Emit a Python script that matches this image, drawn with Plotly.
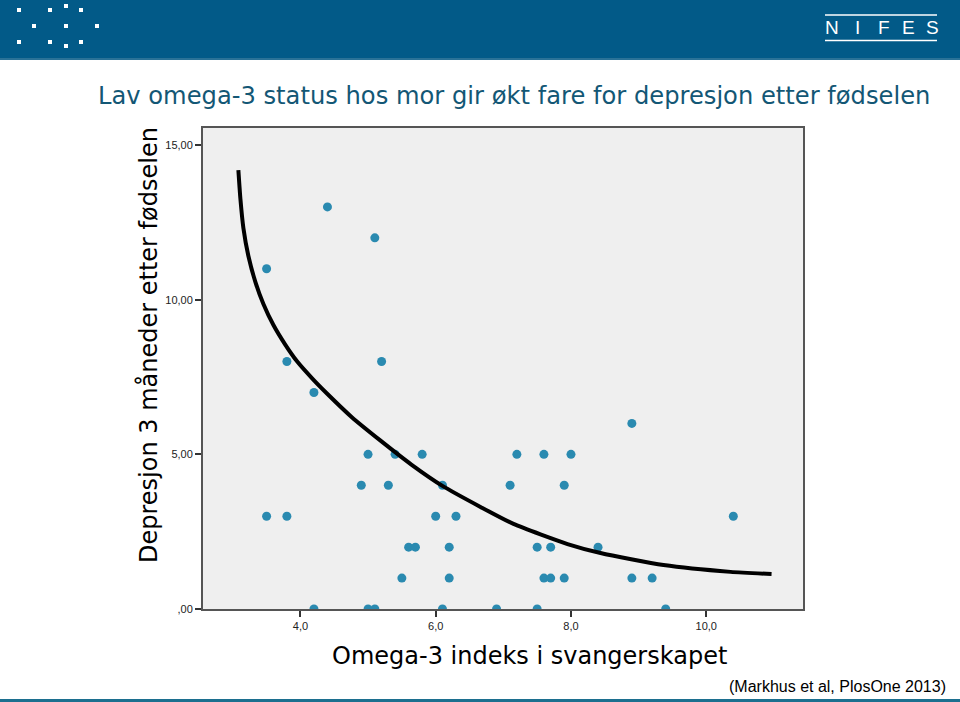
import plotly.graph_objects as go

# ---- data ----
omega3_index = [3.5, 4.4, 5.1, 3.8, 5.2, 4.2,
                5.0, 5.4, 5.8, 7.2, 7.6, 8.0, 8.9,
                4.9, 5.3, 6.1, 7.1, 7.9,
                3.5, 3.8, 6.0, 6.3, 10.4,
                5.6, 5.7, 6.2, 7.5, 7.7, 8.4,
                5.5, 6.2, 7.6, 7.7, 7.9, 8.9, 9.2,
                4.2, 5.0, 5.1, 6.1, 6.9, 7.5, 9.4]
depression = [11, 13, 12, 8, 8, 7,
              5, 5, 5, 5, 5, 5, 6,
              4, 4, 4, 4, 4,
              3, 3, 3, 3, 3,
              2, 2, 2, 2, 2, 2,
              1, 1, 1, 1, 1, 1, 1,
              0, 0, 0, 0, 0, 0, 0]

fit_x = [3.083, 3.113, 3.157, 3.231, 3.335, 3.453, 3.601, 3.778, 3.956, 4.18, 4.40,
         4.76, 5.18, 5.64, 6.100, 6.662, 7.150, 7.949, 8.437, 9.368, 10.359, 10.965]
fit_y = [14.19, 13.26, 12.32, 11.41, 10.57, 9.86, 9.18, 8.54, 7.99, 7.44, 6.95,
         6.20, 5.45, 4.67, 3.98, 3.30, 2.75, 2.10, 1.81, 1.42, 1.20, 1.13]

x_tickvals = [4, 6, 8, 10]
x_ticktext = ["4,0", "6,0", "8,0", "10,0"]
y_tickvals = [0, 5, 10, 15]
y_ticktext = [",00", "5,00", "10,00", "15,00"]

title_text = "Lav omega-3 status hos mor gir økt fare for depresjon etter fødselen"
x_title = "Omega-3 indeks i svangerskapet"
y_title = "Depresjon 3 måneder etter fødselen"
source_text = "(Markhus et al, PlosOne 2013)"
logo_letters = ["N", "I", "F", "E", "S"]

# ---- layout geometry (pixels) ----
W, H = 960, 702
PL, PR, PT, PB = 203, 803, 128, 609
HEADER = "#025a88"


def px(x):
    return (x - PL) / (PR - PL)


def py(y):
    return (PB - y) / (PB - PT)


fig = go.Figure()
fig.add_trace(go.Scatter(
    x=omega3_index, y=depression, mode="markers",
    marker=dict(size=9, color="#2a8ab0", line=dict(width=0)),
    showlegend=False, hoverinfo="x+y"))
fig.add_trace(go.Scatter(
    x=fit_x, y=fit_y, mode="lines",
    line=dict(color="black", width=4, shape="spline", smoothing=0.6),
    showlegend=False, hoverinfo="skip"))

shapes = []
# header band
shapes.append(dict(type="rect", xref="paper", yref="paper",
                   x0=px(0), x1=px(W), y0=py(0), y1=py(59),
                   fillcolor=HEADER, line=dict(width=0), layer="above"))
shapes.append(dict(type="rect", xref="paper", yref="paper",
                   x0=px(0), x1=px(W), y0=py(58), y1=py(60),
                   fillcolor="#2a7297", line=dict(width=0), layer="above"))
# bottom line
shapes.append(dict(type="rect", xref="paper", yref="paper",
                   x0=px(0), x1=px(W), y0=py(699), y1=py(H),
                   fillcolor="#1c6f8f", line=dict(width=0), layer="above"))
# logo dots (decoration)
dot_centers = [(19, 10), (50, 10), (66, 6), (81, 10), (34, 26), (66, 26),
               (97, 26), (19, 42), (50, 42), (66, 46), (81, 42)]
for cx, cy in dot_centers:
    shapes.append(dict(type="rect", xref="paper", yref="paper",
                       x0=px(cx - 2), x1=px(cx + 2), y0=py(cy - 2), y1=py(cy + 2),
                       fillcolor="white", line=dict(width=0), layer="above"))
# NIFES lines
for ly in (15, 40.5):
    shapes.append(dict(type="line", xref="paper", yref="paper",
                       x0=px(825), x1=px(937), y0=py(ly), y1=py(ly),
                       line=dict(color="white", width=1.5), layer="above"))

annotations = []
for letter, lx in zip(logo_letters, [832, 858, 884, 908, 932]):
    annotations.append(dict(text=letter, xref="paper", yref="paper",
                            x=px(lx), y=py(27.5), xanchor="center", yanchor="middle",
                            showarrow=False,
                            font=dict(family="Liberation Sans", size=19, color="white")))
annotations.append(dict(text=title_text, xref="paper", yref="paper",
                        x=px(514), y=py(96), xanchor="center", yanchor="middle",
                        showarrow=False,
                        font=dict(family="DejaVu Sans", size=24.2, color="#135775")))
annotations.append(dict(text=y_title, xref="paper", yref="paper",
                        x=px(148), y=py(345), xanchor="center", yanchor="middle",
                        textangle=-90, showarrow=False,
                        font=dict(family="DejaVu Sans", size=24, color="black")))
annotations.append(dict(text=x_title, xref="paper", yref="paper",
                        x=px(529), y=py(656), xanchor="center", yanchor="middle",
                        showarrow=False,
                        font=dict(family="DejaVu Sans", size=24, color="black")))
annotations.append(dict(text=source_text, xref="paper", yref="paper",
                        x=px(948), y=py(686), xanchor="right", yanchor="middle",
                        showarrow=False,
                        font=dict(family="Liberation Sans", size=16, color="black")))

axis_common = dict(showgrid=False, zeroline=False, showline=True, mirror=True,
                   linecolor="#555555", linewidth=2, ticks="outside", ticklen=6,
                   tickwidth=2, tickcolor="#333333",
                   tickfont=dict(family="Liberation Sans", size=11, color="#222222"))

fig.update_layout(
    width=W, height=H,
    margin=dict(l=PL, r=W - PR, t=PT, b=H - PB, pad=0),
    paper_bgcolor="white", plot_bgcolor="#efefef",
    xaxis=dict(range=[2.56, 11.43], tickvals=x_tickvals, ticktext=x_ticktext, **axis_common),
    yaxis=dict(range=[0, 15.55], tickvals=y_tickvals, ticktext=y_ticktext, **axis_common),
    shapes=shapes, annotations=annotations, showlegend=False,
)

fig.write_html("out.html", config={"displayModeBar": False},
               post_script="document.body.style.margin='0';document.body.style.overflow='hidden';")
